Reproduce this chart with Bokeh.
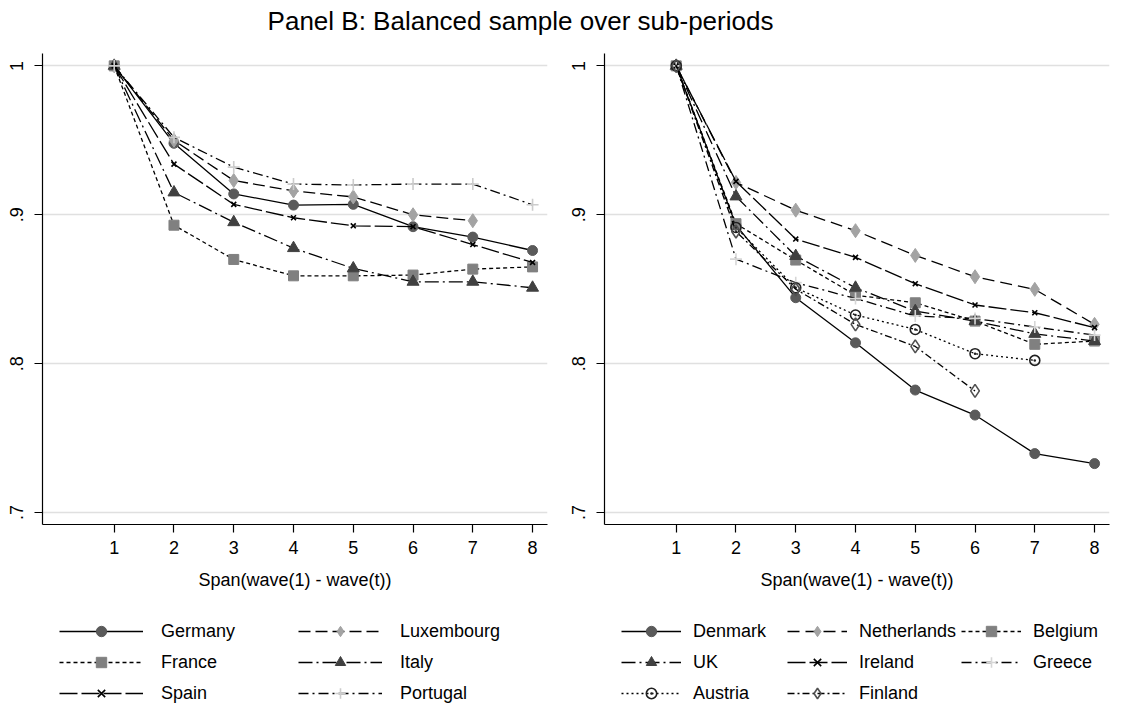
from bokeh.plotting import figure
from bokeh.layouts import column, row
from bokeh.models import (FixedTicker, CustomJSTickFormatter, Legend, LegendItem,
                          Range1d, Label)
from bokeh.embed import file_html
from bokeh.resources import INLINE

# ---------------- data ----------------
title_text = "Panel B: Balanced sample over sub-periods"
x_label = "Span(wave(1) - wave(t))"
waves = [1, 2, 3, 4, 5, 6, 7, 8]
x_ticks = [1, 2, 3, 4, 5, 6, 7, 8]
y_ticks = [0.7, 0.8, 0.9, 1.0]

germany = [1.0, 0.948, 0.914, 0.9065, 0.907, 0.892, 0.885, 0.876]
luxembourg = [1.0, 0.950, 0.923, 0.916, 0.912, 0.900, 0.896]
france = [1.0, 0.893, 0.870, 0.859, 0.859, 0.8595, 0.8635, 0.865]
italy = [1.0, 0.915, 0.895, 0.8776, 0.864, 0.855, 0.855, 0.851]
spain = [1.0, 0.934, 0.907, 0.898, 0.8926, 0.892, 0.880, 0.868]
portugal = [1.0, 0.952, 0.932, 0.9206, 0.920, 0.9206, 0.9206, 0.9067]

denmark = [1.0, 0.893, 0.8443, 0.814, 0.7823, 0.7655, 0.7396, 0.7329]
netherlands = [1.0, 0.9217, 0.9031, 0.8893, 0.8727, 0.8584, 0.8499, 0.8264]
belgium = [1.0, 0.894, 0.8696, 0.846, 0.8409, 0.8286, 0.813, 0.8152]
uk = [1.0, 0.9123, 0.8723, 0.851, 0.8353, 0.8286, 0.820, 0.8152]
ireland = [1.0, 0.9224, 0.8837, 0.8714, 0.8537, 0.8394, 0.8342, 0.8242]
greece = [1.0, 0.8702, 0.8544, 0.8438, 0.832, 0.8304, 0.8246, 0.8192]
austria = [1.0, 0.8915, 0.851, 0.8327, 0.823, 0.8067, 0.8022]
finland = [1.0, 0.8888, 0.850, 0.8264, 0.8116, 0.7817]

# (label, values, dash, marker, fill, line colour of marker, size)
left_series = [
    ("Germany", germany, "solid", "circle", "#5a5a5a", "#5a5a5a", 10),
    ("Luxembourg", luxembourg, "12 5", "diamond", "#a3a3a3", "#a3a3a3", 14),
    ("France", france, "4 3", "square", "#808080", "#808080", 10),
    ("Italy", italy, "14 4 2 4", "triangle", "#404040", "#404040", 12),
    ("Spain", spain, "18 4", "x", None, "#000000", 7),
    ("Portugal", portugal, "10 4 2 4", "cross", None, "#cccccc", 12),
]
right_series = [
    ("Denmark", denmark, "solid", "circle", "#5a5a5a", "#5a5a5a", 10),
    ("Netherlands", netherlands, "12 6", "diamond", "#a3a3a3", "#a3a3a3", 14),
    ("Belgium", belgium, "4 3", "square", "#808080", "#808080", 10),
    ("UK", uk, "14 4 2 4", "triangle", "#404040", "#404040", 12),
    ("Ireland", ireland, "18 4", "x", None, "#000000", 7),
    ("Greece", greece, "10 4 2 4", "cross", None, "#d6d6d6", 12),
    ("Austria", austria, "2 3", "circle_dot", None, "#202020", 10),
    ("Finland", finland, "7 3 2 3", "diamond", None, "#505050", 13),
]

FONT = "Liberation Sans"
FS = "18px"


def add_series(p, vals, dash, marker, fill, mline, size):
    xs = waves[:len(vals)]
    lr = p.line(xs, vals, line_color="black", line_width=1.3, line_dash=dash)
    if fill is None:
        sr = p.scatter(xs, vals, marker=marker, size=size, fill_color=None,
                       line_color=mline, line_width=1.6)
    else:
        sr = p.scatter(xs, vals, marker=marker, size=size, fill_color=fill,
                       line_color=mline, line_width=1)
    return lr, sr


def make_panel(series):
    p = figure(frame_width=505, frame_height=471, output_backend="svg",
               toolbar_location=None,
               x_range=Range1d(-0.2, 8.25), y_range=Range1d(0.692, 1.0083),
               min_border_left=42, min_border_right=15, min_border_top=13,
               min_border_bottom=82)
    p.outline_line_color = None
    p.background_fill_color = "white"
    p.border_fill_color = "white"
    p.xgrid.visible = False
    p.ygrid.grid_line_color = "#e0e0e0"
    p.ygrid.grid_line_width = 1.6

    for ax in (p.xaxis[0], p.yaxis[0]):
        ax.axis_line_width = 1.2
        ax.axis_line_color = "black"
        ax.major_tick_line_width = 1.2
        ax.major_tick_line_color = "black"
        ax.major_tick_out = 8
        ax.major_tick_in = 0
        ax.minor_tick_line_color = None
        ax.major_label_text_font = FONT
        ax.major_label_text_font_size = FS
        ax.major_label_text_color = "black"
        ax.axis_label_text_font = FONT
        ax.axis_label_text_font_size = FS
        ax.axis_label_text_font_style = "normal"
        ax.axis_label_text_color = "black"

    p.xaxis.ticker = FixedTicker(ticks=x_ticks)
    p.xaxis.major_label_standoff = 8
    p.xaxis.axis_label = x_label
    p.xaxis.axis_label_standoff = 13
    p.yaxis.ticker = FixedTicker(ticks=y_ticks)
    p.yaxis.formatter = CustomJSTickFormatter(
        code="return tick >= 0.999 ? '1' : tick.toFixed(1).replace(/^0/, '');")
    p.yaxis.major_label_orientation = "vertical"
    p.yaxis.major_label_standoff = 11

    for label, vals, dash, marker, fill, mline, size in series:
        add_series(p, vals, dash, marker, fill, mline, size)
    return p


def make_legend(series, ncols, glyph_w, label_w, standoff):
    # legend-only strip: the series are drawn out of view, only the key shows
    lf = figure(width=562, height=100, output_backend="svg", toolbar_location=None,
                x_range=Range1d(100, 101), y_range=Range1d(100, 101),
                min_border_left=0, min_border_right=0, min_border_top=0,
                min_border_bottom=0)
    lf.axis.visible = False
    lf.grid.visible = False
    lf.outline_line_color = None
    items = []
    for label, vals, dash, marker, fill, mline, size in series:
        lr, sr = add_series(lf, vals, dash, marker, fill, mline, size)
        items.append(LegendItem(label=label, renderers=[lr, sr]))
    leg = Legend(items=items, ncols=ncols, orientation="horizontal",
                 location=(17, 0), margin=0, padding=0,
                 glyph_width=glyph_w, glyph_height=26, label_height=20,
                 label_width=label_w, spacing=5, label_standoff=standoff,
                 label_text_font=FONT, label_text_font_size=FS,
                 label_text_color="black", border_line_color=None,
                 background_fill_alpha=0)
    lf.add_layout(leg)
    return lf


left = make_panel(left_series)
right = make_panel(right_series)
left_leg = make_legend(left_series, 2, 84, 132, 18)
right_leg = make_legend(right_series, 3, 60, 89, 12)

tf = figure(width=1124, height=40, output_backend="svg", toolbar_location=None,
            x_range=Range1d(0, 1124), y_range=Range1d(0, 40),
            min_border_left=0, min_border_right=0, min_border_top=0, min_border_bottom=0)
tf.axis.visible = False
tf.grid.visible = False
tf.outline_line_color = None
tf.add_layout(Label(x=520, y=20, text=title_text, text_align="center",
                    text_baseline="middle", text_font=FONT,
                    text_font_size="26px", text_color="black"))

layout = column(tf, row(column(left, left_leg), column(right, right_leg)))
open("out.html", "w").write(file_html(layout, INLINE))
